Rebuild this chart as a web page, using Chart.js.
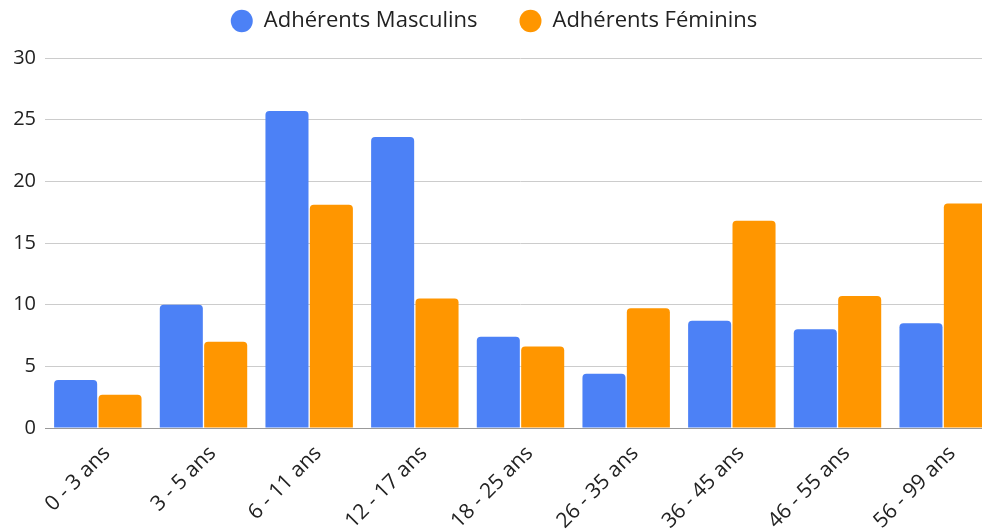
<!DOCTYPE html>
<html>
<head>
<meta charset="utf-8">
<script src="https://cdn.jsdelivr.net/npm/chart.js@4.4.0/dist/chart.umd.min.js"></script>
<style>
  html, body { margin: 0; padding: 0; background: #fff; overflow: hidden; }
  #wrap { width: 996px; height: 532px; }
</style>
</head>
<body>
<div id="wrap"><canvas id="chart-area"></canvas></div>
<script>
var categories = ["0 - 3 ans", "3 - 5 ans", "6 - 11 ans", "12 - 17 ans", "18 - 25 ans",
	"26 - 35 ans", "36 - 45 ans", "46 - 55 ans", "56 - 99 ans"];
var masculins = [3.9, 10, 25.7, 23.6, 7.4, 4.4, 8.7, 8.0, 8.5];
var feminins = [2.7, 7.0, 18.1, 10.5, 6.6, 9.7, 16.8, 10.7, 18.2];
var yTicks = { min: 0, max: 30, step: 5 };

var FONT = "'Open Sans', 'Noto Sans', sans-serif";

// legend: wide gap between items but sitting near the top edge
var legendTweak = {
	id: 'legendTweak',
	beforeInit: function(chart) {
		var fit = chart.legend.fit;
		chart.legend.fit = function() {
			fit.call(this);
			this.height = 58;
		};
	},
	afterLayout: function(chart) {
		var l = chart.legend;
		l.top -= 32;
		l.left -= 4; l.right -= 4;
	}
};

var config = {
	type: 'bar',
	data: {
		labels: categories,
		datasets: [{
			label: 'Adhérents Masculins',
			data: masculins,
			backgroundColor: '#4c81f6',
			borderRadius: { topLeft: 4, topRight: 4 },
			borderSkipped: 'start'
		}, {
			label: 'Adhérents Féminins',
			data: feminins,
			backgroundColor: '#ff9600',
			borderRadius: { topLeft: 4, topRight: 4 },
			borderSkipped: 'start'
		}]
	},
	options: {
		responsive: true,
		maintainAspectRatio: false,
		animation: false,
		categoryPercentage: 0.84,
		barPercentage: 0.97,
		plugins: {
			legend: {
				position: 'top',
				labels: {
					usePointStyle: true,
					pointStyle: 'circle',
					pointStyleWidth: 22,
					boxHeight: 16,
					padding: 42,
					color: '#222',
					font: { family: FONT, size: 22 }
				}
			},
			tooltip: { enabled: false }
		},
		scales: {
			x: {
				grid: { display: false },
				border: { display: true, color: '#999' },
				ticks: {
					color: '#222',
					font: { family: FONT, size: 21 },
					maxRotation: 45,
					minRotation: 45,
					labelOffset: 9,
					padding: 5
				},
				afterFit: function(scale) { scale.height = 104; }
			},
			y: {
				min: yTicks.min,
				max: yTicks.max,
				border: { display: false },
				grid: {
					color: '#cccccc',
					drawTicks: false
				},
				ticks: {
					stepSize: yTicks.step,
					color: '#222',
					padding: 9,
					font: { family: FONT, size: 20 }
				},
				afterFit: function(scale) { scale.width = 45; }
			}
		}
	},
	plugins: [legendTweak]
};

window.onload = function() {
	var ctx = document.getElementById("chart-area").getContext("2d");
	window.myBar = new Chart(ctx, config);
};
</script>
</body>
</html>
